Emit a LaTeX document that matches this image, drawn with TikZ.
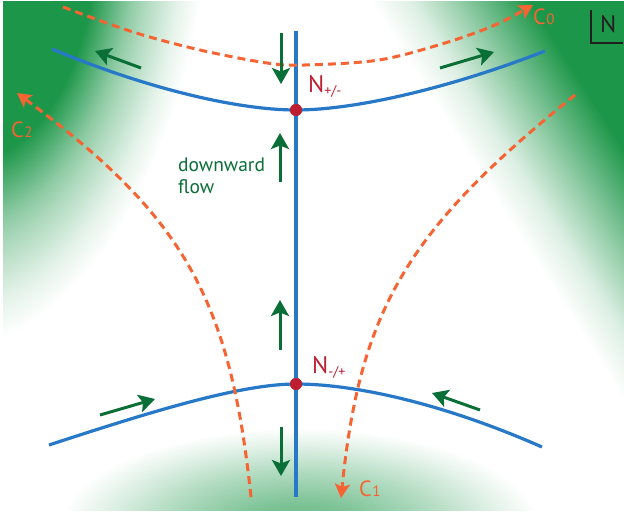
\documentclass[tikz,border=0pt]{standalone}
\usepackage{fontspec}
\setmainfont{PT Sans}
\usetikzlibrary{arrows.meta}
\definecolor{bggreen}{RGB}{28,150,72}
\definecolor{flowgreen}{RGB}{10,110,55}
\definecolor{sepblue}{RGB}{40,120,200}
\definecolor{nullred}{RGB}{190,30,50}
\definecolor{corange}{RGB}{245,100,50}
\definecolor{ngray}{RGB}{35,31,32}
\colorlet{gA}{bggreen!66!white}
\colorlet{gB}{bggreen!50!white}
\colorlet{gC}{bggreen!35!white}
\colorlet{gD}{bggreen!15!white}
\colorlet{gE}{bggreen!58!white}
\colorlet{gF}{bggreen!12!white}
% the path's bounding box maps to the central 25bp..75bp of a shading
\pgfdeclareradialshading{llobe}{\pgfpoint{0bp}{0bp}}{color(0bp)=(bggreen); color(9.5bp)=(bggreen); color(13.75bp)=(gB); color(15.5bp)=(gC); color(18.75bp)=(gF); color(21.25bp)=(white); color(50bp)=(white)}
\pgfdeclarehorizontalshading{rlobe}{100bp}{color(0bp)=(bggreen); color(48.2bp)=(bggreen); color(58.4bp)=(gB); color(66.1bp)=(gD); color(72.3bp)=(white); color(100bp)=(white)}
\pgfdeclareradialshading{bglow}{\pgfpoint{0bp}{0bp}}{color(0bp)=(gA); color(6bp)=(gE); color(14bp)=(gC); color(21bp)=(gF); color(25bp)=(white); color(50bp)=(white)}
\begin{document}
\begin{tikzpicture}[x=1pt,y=-1pt,
  sep/.style={draw=sepblue,line width=3.2pt},
  cpath/.style={draw=corange,line width=3pt,dash pattern=on 8pt off 5pt,-{Stealth[length=14pt,width=15pt,inset=3pt]}},
  flowarrow/.style={draw=flowgreen,line width=3pt,-{Stealth[length=16pt,width=18pt,inset=3.5pt]}},
  nullpt/.style={circle,fill=nullred,minimum size=12pt,inner sep=0pt},
  nlabel/.style={text=nullred,font=\fontsize{24}{24}\selectfont,inner sep=0pt,anchor=base west},
  clabel/.style={text=corange,font=\fontsize{22}{22}\selectfont,inner sep=0pt,anchor=base west}
]
\useasboundingbox (0,0) rectangle (624,513);
\fill[white] (0,0) rectangle (624,513);
\begin{scope}
\clip (3,2) rectangle (624,510);
% left green lobe (tilted elliptical gradient about the top-left corner)
\begin{scope}[transform canvas={rotate=77.8}]
  \shade[shading=llobe] (0,0) ellipse [x radius=420, y radius=232];
\end{scope}
% right green lobe (linear gradient from the top-right corner)
\begin{scope}[transform canvas={shift={(624,0)},rotate=212.4}]
  \shade[shading=rlobe] (-50,-420) rectangle (230,420);
\end{scope}
% bottom glow
\shade[shading=bglow] (300,528) ellipse [x radius=240, y radius=100];
\end{scope}

% coordinates
\coordinate (vtop) at (296,31);
\coordinate (vbot) at (296,497);
\coordinate (uL) at (52,49);
\coordinate (uR) at (545,51);
\coordinate (lL) at (49,445);
\coordinate (lR) at (542,447);

% separatrices
\node[nullpt] (Ntop) at (296,110) {};
\node[nullpt] (Nbot) at (296,384) {};
\draw[sep] (vtop) -- (vbot);
\draw[sep] (uL) .. controls (150,90) and (240,110) .. (Ntop.center) .. controls (352,110) and (445,90) .. (uR);
\draw[sep] (lL) .. controls (150,412) and (240,384) .. (Nbot.center) .. controls (352,384) and (440,402) .. (lR);
\node[nullpt] at (Ntop) {};
\node[nullpt] at (Nbot) {};

% dashed C paths
\coordinate (c0s) at (63,7);   \coordinate (c0e) at (533,5);
\coordinate (c2s) at (251,497); \coordinate (c2e) at (17,93);
\coordinate (c1s) at (575,95); \coordinate (c1e) at (341,498);
\draw[cpath] plot[smooth,tension=0.55] coordinates {(c0s) (133,32) (200,50) (267,63) (305,65) (379,60) (445,43) (495,25) (c0e)};
\draw[cpath] (c2s) .. controls (230,297) and (183,216) .. (c2e);
\draw[cpath] (c1s) .. controls (407,230) and (360,310) .. (c1e);

% flow arrows
\coordinate (a1s) at (281,33);  \coordinate (a1e) at (281,84);
\coordinate (a2s) at (280,182); \coordinate (a2e) at (280,133);
\coordinate (a3s) at (280,350); \coordinate (a3e) at (280,300);
\coordinate (a4s) at (281,427); \coordinate (a4e) at (281,476);
\coordinate (a5s) at (141,68);  \coordinate (a5e) at (95,51);
\coordinate (a6s) at (440,68);  \coordinate (a6e) at (494,52);
\coordinate (a7s) at (100,415); \coordinate (a7e) at (155,399);
\coordinate (a8s) at (480,410); \coordinate (a8e) at (432,393);
\foreach \s/\e in {a1s/a1e,a2s/a2e,a3s/a3e,a4s/a4e,a5s/a5e,a6s/a6e,a7s/a7e,a8s/a8e}
  \draw[flowarrow] (\s) -- (\e);

% labels
\node[nlabel] (lt) at (308,93) {N\raisebox{-3pt}{\fontsize{14}{14}\selectfont +/-}};
\node[nlabel] (lb) at (312,373) {N\raisebox{-3pt}{\fontsize{14}{14}\selectfont -/+}};
\node[clabel] (c0) at (533,25) {C\kern0.5pt{\fontsize{15}{15}\selectfont 0}};
\node[clabel] (c1) at (359,496) {C\kern0.5pt{\fontsize{15}{15}\selectfont 1}};
\node[clabel] (c2) at (11,138) {C\kern0.5pt{\fontsize{15}{15}\selectfont 2}};
\node[text=flowgreen,font=\fontsize{19.5}{22}\selectfont,align=left,inner sep=0pt,anchor=north west] (flow) at (178,158) {downward\\flow};

% north indicator
\node[text=ngray,font=\fontsize{24}{24}\selectfont,inner sep=0pt,anchor=base west] (north) at (600,33) {N};
\coordinate (nb1) at (591,10);
\coordinate (nb2) at (591,43);
\coordinate (nb3) at (623,43);
\draw[ngray,line width=1.5pt] (nb1) -- (nb2) -- (nb3);
\end{tikzpicture}
\end{document}
